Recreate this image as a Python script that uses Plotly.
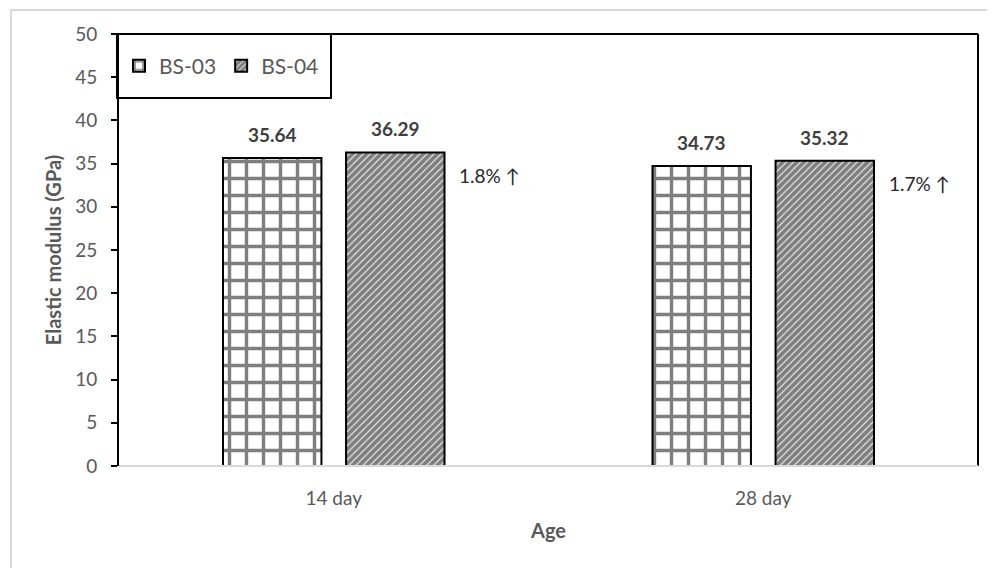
import plotly.graph_objects as go

categories = ["14 day", "28 day"]
bs03 = [35.64, 34.73]
bs04 = [36.29, 35.32]
increase_labels = ["1.8% ↑", "1.7% ↑"]
y_ticks = [0, 5, 10, 15, 20, 25, 30, 35, 40, 45, 50]

FONT = "Lato, 'Open Sans', sans-serif"
GRAY = "#595959"

# the page body adds an 8px margin; figure is sized/offset to compensate
W, H = 987, 560
ML, MR, MT, MB = 111, 17, 26, 102
PW, PH = W - ML - MR, H - MT - MB

fig = go.Figure()
fig.add_trace(go.Bar(
    name="BS-03", x=categories, y=bs03,
    marker=dict(color="white", line=dict(color="black", width=2),
                pattern=dict(shape="+", size=17, solidity=0.36, fgcolor="black", bgcolor="white")),
))
fig.add_trace(go.Bar(
    name="BS-04", x=categories, y=bs04,
    marker=dict(color="white", line=dict(color="black", width=2),
                pattern=dict(shape="/", size=5, solidity=0.8, fgcolor="black", bgcolor="white")),
))

# value labels above bars
for series, shift in ((bs03, -61.5), (bs04, 61.5)):
    for cat, v in zip(categories, series):
        fig.add_annotation(x=cat, y=v, text=f"<b>{v:.2f}</b>", showarrow=False,
                           xref="x", yref="y", xshift=shift, yshift=10, yanchor="bottom",
                           font=dict(family=FONT, size=19, color="#404040"))

# increase labels
for cat, v, lab in zip(categories, bs04, increase_labels):
    fig.add_annotation(x=cat, y=v, text=lab, showarrow=False,
                       xref="x", yref="y", xshift=156, yshift=-23,
                       font=dict(family=FONT, size=19, color="#262626"))

fig.update_layout(
    width=W, height=H,
    margin=dict(l=ML, r=MR, t=MT, b=MB, autoexpand=False),
    paper_bgcolor="white", plot_bgcolor="white",
    barmode="group", bargap=0.427, bargroupgap=0.2,
    font=dict(family=FONT, color=GRAY),
    showlegend=True,
    legend=dict(x=0.0, y=1 - (66 - 34) / PH, xanchor="left", yanchor="middle", orientation="h",
                borderwidth=0, bgcolor="rgba(0,0,0,0)",
                font=dict(family=FONT, size=21, color=GRAY),
                itemwidth=30, tracegroupgap=0),
    xaxis=dict(
        title=dict(text="<b>Age</b>", font=dict(family=FONT, size=20, color=GRAY), standoff=15),
        tickfont=dict(family=FONT, size=19, color=GRAY), ticklabelstandoff=19,
        showline=False, showgrid=False, ticks="",
    ),
    yaxis=dict(
        title=dict(text="<b>Elastic modulus (GPa)</b>", font=dict(family=FONT, size=20, color=GRAY), standoff=8),
        range=[0, 50], tickvals=y_ticks, ticks="outside", ticklen=6, tickcolor="black", tickwidth=2,
        tickfont=dict(family=FONT, size=19, color=GRAY), ticklabelstandoff=10,
        showline=True, linecolor="black", linewidth=2, showgrid=False, zeroline=False,
    ),
)

# plot area border: top and right black, bottom light gray
fig.add_shape(type="line", xref="paper", yref="paper", x0=0, x1=1, y0=1, y1=1,
              line=dict(color="black", width=2))
fig.add_shape(type="line", xref="paper", yref="paper", x0=1, x1=1, y0=0, y1=1,
              line=dict(color="black", width=2))
fig.add_shape(type="line", xref="paper", yref="paper", x0=0, x1=1, y0=0, y1=0,
              line=dict(color="#d9d9d9", width=2), layer="above")
# legend box
fig.add_shape(type="rect", xref="paper", yref="paper",
              x0=-2 / PW, x1=(331 - 119) / PW, y0=1 - (98 - 34) / PH, y1=1,
              line=dict(color="black", width=2), layer="above")
# outer chart border (light gray)
fig.add_shape(type="rect", xref="paper", yref="paper",
              x0=(11 - 119) / PW, x1=(1020 - 119) / PW,
              y0=(466 - 590) / PH, y1=(466 - 10) / PH,
              line=dict(color="#d9d9d9", width=2), layer="below")

fig.write_html("out.html")
